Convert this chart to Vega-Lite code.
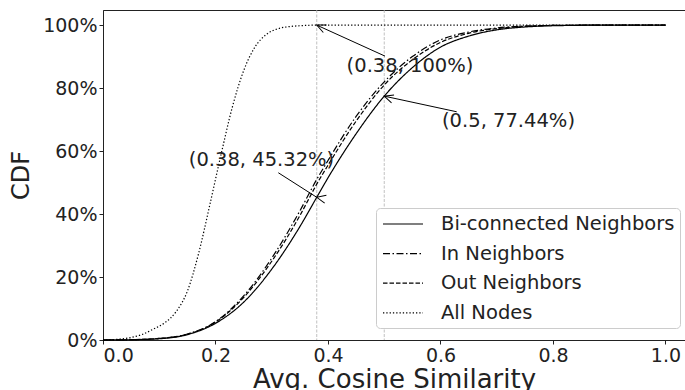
{
  "$schema": "https://vega.github.io/schema/vega-lite/v6.json",
  "width": 582,
  "height": 330,
  "autosize": {"type": "none"},
  "padding": {"left": 103, "top": 10, "right": 0, "bottom": 50},
  "background": "white",
  "config": {
    "font": "DejaVu Sans",
    "view": {"stroke": "#222222", "strokeWidth": 1},
    "axis": {"grid": false, "labelFontSize": 19, "labelColor": "#222222", "tickColor": "#222222", "domainColor": "#222222", "tickSize": 4, "tickWidth": 1, "domainWidth": 1, "titleFontSize": 24, "titleFontWeight": "normal", "titleColor": "#222222"}
  },
  "datasets": {
    "curves": [
      {"series": "Bi-connected Neighbors", "x": 0.00, "y": 0.0},
      {"series": "Bi-connected Neighbors", "x": 0.05, "y": 0.001},
      {"series": "Bi-connected Neighbors", "x": 0.10, "y": 0.004},
      {"series": "Bi-connected Neighbors", "x": 0.15, "y": 0.017},
      {"series": "Bi-connected Neighbors", "x": 0.20, "y": 0.053},
      {"series": "Bi-connected Neighbors", "x": 0.25, "y": 0.12},
      {"series": "Bi-connected Neighbors", "x": 0.30, "y": 0.225},
      {"series": "Bi-connected Neighbors", "x": 0.35, "y": 0.36},
      {"series": "Bi-connected Neighbors", "x": 0.38, "y": 0.4532},
      {"series": "Bi-connected Neighbors", "x": 0.40, "y": 0.515},
      {"series": "Bi-connected Neighbors", "x": 0.45, "y": 0.655},
      {"series": "Bi-connected Neighbors", "x": 0.50, "y": 0.7744},
      {"series": "Bi-connected Neighbors", "x": 0.55, "y": 0.865},
      {"series": "Bi-connected Neighbors", "x": 0.60, "y": 0.93},
      {"series": "Bi-connected Neighbors", "x": 0.65, "y": 0.965},
      {"series": "Bi-connected Neighbors", "x": 0.70, "y": 0.985},
      {"series": "Bi-connected Neighbors", "x": 0.75, "y": 0.994},
      {"series": "Bi-connected Neighbors", "x": 0.80, "y": 0.998},
      {"series": "Bi-connected Neighbors", "x": 0.90, "y": 1.0},
      {"series": "Bi-connected Neighbors", "x": 1.00, "y": 1.0},
      {"series": "In Neighbors", "x": 0.00, "y": 0.0},
      {"series": "In Neighbors", "x": 0.05, "y": 0.001},
      {"series": "In Neighbors", "x": 0.10, "y": 0.005},
      {"series": "In Neighbors", "x": 0.15, "y": 0.019},
      {"series": "In Neighbors", "x": 0.20, "y": 0.058},
      {"series": "In Neighbors", "x": 0.25, "y": 0.14},
      {"series": "In Neighbors", "x": 0.30, "y": 0.26},
      {"series": "In Neighbors", "x": 0.35, "y": 0.41},
      {"series": "In Neighbors", "x": 0.38, "y": 0.51},
      {"series": "In Neighbors", "x": 0.40, "y": 0.57},
      {"series": "In Neighbors", "x": 0.45, "y": 0.71},
      {"series": "In Neighbors", "x": 0.50, "y": 0.82},
      {"series": "In Neighbors", "x": 0.55, "y": 0.90},
      {"series": "In Neighbors", "x": 0.60, "y": 0.953},
      {"series": "In Neighbors", "x": 0.65, "y": 0.978},
      {"series": "In Neighbors", "x": 0.70, "y": 0.991},
      {"series": "In Neighbors", "x": 0.75, "y": 0.997},
      {"series": "In Neighbors", "x": 0.80, "y": 0.999},
      {"series": "In Neighbors", "x": 0.90, "y": 1.0},
      {"series": "In Neighbors", "x": 1.00, "y": 1.0},
      {"series": "Out Neighbors", "x": 0.00, "y": 0.0},
      {"series": "Out Neighbors", "x": 0.05, "y": 0.001},
      {"series": "Out Neighbors", "x": 0.10, "y": 0.005},
      {"series": "Out Neighbors", "x": 0.15, "y": 0.018},
      {"series": "Out Neighbors", "x": 0.20, "y": 0.057},
      {"series": "Out Neighbors", "x": 0.25, "y": 0.135},
      {"series": "Out Neighbors", "x": 0.30, "y": 0.25},
      {"series": "Out Neighbors", "x": 0.35, "y": 0.395},
      {"series": "Out Neighbors", "x": 0.38, "y": 0.495},
      {"series": "Out Neighbors", "x": 0.40, "y": 0.555},
      {"series": "Out Neighbors", "x": 0.45, "y": 0.695},
      {"series": "Out Neighbors", "x": 0.50, "y": 0.81},
      {"series": "Out Neighbors", "x": 0.55, "y": 0.89},
      {"series": "Out Neighbors", "x": 0.60, "y": 0.945},
      {"series": "Out Neighbors", "x": 0.65, "y": 0.974},
      {"series": "Out Neighbors", "x": 0.70, "y": 0.989},
      {"series": "Out Neighbors", "x": 0.75, "y": 0.996},
      {"series": "Out Neighbors", "x": 0.80, "y": 0.999},
      {"series": "Out Neighbors", "x": 0.90, "y": 1.0},
      {"series": "Out Neighbors", "x": 1.00, "y": 1.0},
      {"series": "All Nodes", "x": 0.00, "y": 0.0},
      {"series": "All Nodes", "x": 0.03, "y": 0.003},
      {"series": "All Nodes", "x": 0.05, "y": 0.008},
      {"series": "All Nodes", "x": 0.07, "y": 0.018},
      {"series": "All Nodes", "x": 0.09, "y": 0.035},
      {"series": "All Nodes", "x": 0.11, "y": 0.055},
      {"series": "All Nodes", "x": 0.13, "y": 0.09},
      {"series": "All Nodes", "x": 0.15, "y": 0.155},
      {"series": "All Nodes", "x": 0.17, "y": 0.275},
      {"series": "All Nodes", "x": 0.19, "y": 0.43},
      {"series": "All Nodes", "x": 0.21, "y": 0.59},
      {"series": "All Nodes", "x": 0.23, "y": 0.74},
      {"series": "All Nodes", "x": 0.25, "y": 0.855},
      {"series": "All Nodes", "x": 0.27, "y": 0.93},
      {"series": "All Nodes", "x": 0.29, "y": 0.97},
      {"series": "All Nodes", "x": 0.31, "y": 0.988},
      {"series": "All Nodes", "x": 0.33, "y": 0.995},
      {"series": "All Nodes", "x": 0.35, "y": 0.998},
      {"series": "All Nodes", "x": 0.38, "y": 1.0},
      {"series": "All Nodes", "x": 0.50, "y": 1.0},
      {"series": "All Nodes", "x": 1.00, "y": 1.0}
    ],
    "vlines": [{"xv": 0.38}, {"xv": 0.5}],
    "notes": [
      {"label": "(0.38, 100%)", "tx": 0.5458, "ty": 0.8698, "ax": 0.5013, "ay": 0.9016, "hx": 0.38, "hy": 1.0},
      {"label": "(0.5, 77.44%)", "tx": 0.7209, "ty": 0.6952, "ax": 0.6288, "ay": 0.7248, "hx": 0.5, "hy": 0.7744},
      {"label": "(0.38, 45.32%)", "tx": 0.2818, "ty": 0.5714, "ax": 0.3117, "ay": 0.5311, "hx": 0.38, "hy": 0.4532}
    ]
  },
  "layer": [
    {
      "data": {"name": "vlines"},
      "mark": {"type": "rule", "color": "#b0b0b0", "strokeWidth": 0.8, "strokeDash": [3, 1.5]},
      "encoding": {
        "x": {"field": "xv", "type": "quantitative", "scale": {"domain": [0, 1.0347], "nice": false, "zero": false}}
      }
    },
    {
      "data": {"name": "curves"},
      "mark": {"type": "line", "color": "black", "strokeWidth": 1.2, "interpolate": "monotone"},
      "encoding": {
        "x": {"field": "x", "type": "quantitative", "scale": {"domain": [0, 1.0347], "nice": false, "zero": false},
          "axis": {"values": [0, 0.2, 0.4, 0.6, 0.8, 1.0], "format": ".1f", "title": "Avg. Cosine Similarity", "titleFontSize": 26, "titleBaseline": "alphabetic", "titleY": 47, "labelPadding": 2}},
        "y": {"field": "y", "type": "quantitative", "scale": {"domain": [0, 1.048], "nice": false},
          "axis": {"values": [0, 0.2, 0.4, 0.6, 0.8, 1.0], "format": ".0%", "title": "CDF", "titleBaseline": "alphabetic", "titleAngle": -90, "titleAlign": "center", "titleX": -75, "titleY": 165, "labelPadding": 2}},
        "strokeDash": {"field": "series", "type": "nominal",
          "scale": {"domain": ["Bi-connected Neighbors", "In Neighbors", "Out Neighbors", "All Nodes"], "range": [[1, 0], [7, 2.5, 1.5, 2.5], [4.5, 2], [1.3, 2]]},
          "legend": {"title": null, "orient": "none", "legendX": 273, "legendY": 198, "symbolType": "M-2,0L2,0", "symbolSize": 400, "symbolStrokeWidth": 1.2, "symbolStrokeColor": "black", "symbolFillColor": "transparent", "labelFontSize": 19.5, "labelColor": "#222222", "labelLimit": 400, "padding": 5, "rowPadding": 8.6, "symbolOffset": 11, "labelOffset": 27, "fillColor": "white", "strokeColor": "#cccccc", "cornerRadius": 4}}
      }
    },
    {
      "data": {"name": "notes"},
      "mark": {"type": "rule", "color": "black", "strokeWidth": 1},
      "encoding": {
        "x": {"field": "ax", "type": "quantitative"},
        "y": {"field": "ay", "type": "quantitative"},
        "x2": {"field": "hx"},
        "y2": {"field": "hy"}
      }
    },
    {
      "data": {"name": "notes"},
      "mark": {"type": "point", "shape": "M-1,-0.45L0,0L-1,0.45", "filled": false, "size": 324, "stroke": "black", "strokeWidth": 1, "opacity": 1},
      "encoding": {
        "x": {"field": "hx", "type": "quantitative"},
        "y": {"field": "hy", "type": "quantitative"},
        "angle": {"field": "label", "type": "nominal", "scale": {"domain": ["(0.38, 100%)", "(0.5, 77.44%)", "(0.38, 45.32%)"], "range": [204.1, 192.2, 32.5]}, "legend": null}
      }
    },
    {
      "data": {"name": "notes"},
      "mark": {"type": "text", "fontSize": 19.5, "color": "#222222", "align": "center", "baseline": "middle"},
      "encoding": {
        "x": {"field": "tx", "type": "quantitative"},
        "y": {"field": "ty", "type": "quantitative"},
        "text": {"field": "label"}
      }
    }
  ]
}
